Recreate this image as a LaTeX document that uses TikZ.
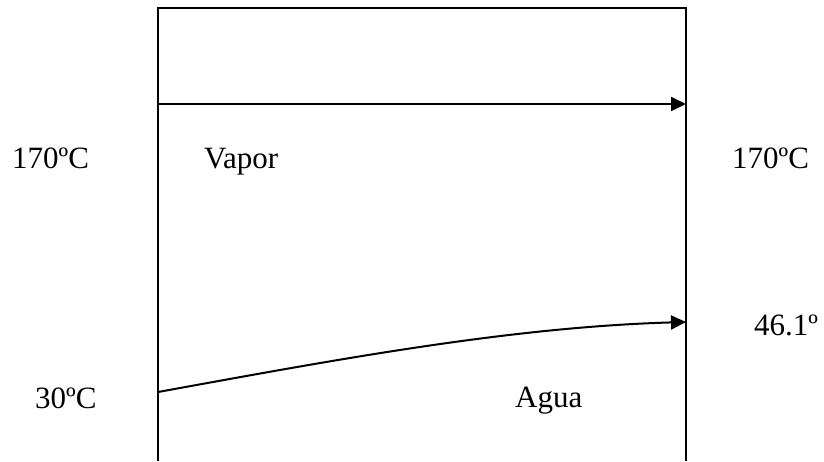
\documentclass[tikz,border=0pt]{standalone}
\usepackage{fontspec}
\setmainfont{Liberation Serif}
\usetikzlibrary{arrows.meta}
\tikzset{
  lbl/.style={anchor=base west, inner sep=0pt, font=\fontsize{31}{36}\selectfont},
  wall/.style={line width=1.5pt, black},
  flow/.style={line width=2pt, black, -{Triangle[length=15pt,width=14pt]}}
}
\begin{document}
\begin{tikzpicture}[x=1pt,y=-1pt]
\useasboundingbox (0,0) rectangle (824,461);
\coordinate (bl) at (158,461);
\coordinate (tl) at (158,8);
\coordinate (tr) at (686,8);
\coordinate (br) at (686,461);
\draw[wall] (bl) -- (tl) -- (tr) -- (br);
\coordinate (vs) at (158,104);
\coordinate (ve) at (686,104);
\draw[flow] (vs) -- (ve);
\coordinate (as) at (158,392);
\coordinate (ae) at (686,322);
\draw[flow] (as) .. controls (334,360) and (510,327) .. (ae);
\node[lbl] (tin) at (12,168) {170ºC};
\node[lbl] (vap) at (204,168) {Vapor};
\node[lbl] (tout) at (732,168) {170ºC};
\node[lbl] (wout) at (754,335) {46.1º};
\node[lbl] (win) at (35,408) {30ºC};
\node[lbl] (agua) at (515,407) {Agua};
\end{tikzpicture}
\end{document}
